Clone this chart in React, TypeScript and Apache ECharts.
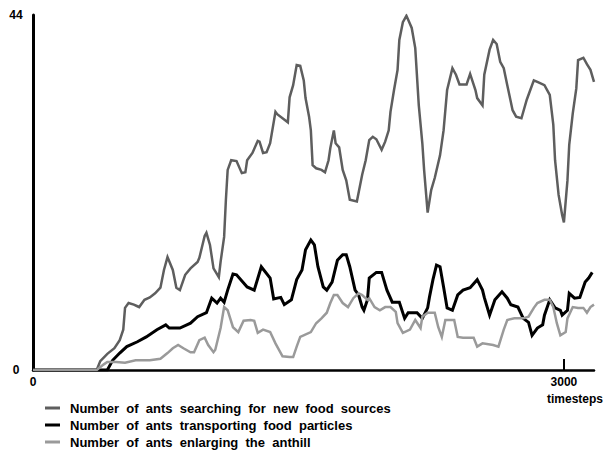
import React, { useEffect, useRef } from "react";
import * as echarts from "echarts";

const seriesNames = [
  "Number  of  ants  searching  for  new  food  sources",
  "Number  of  ants  transporting  food  particles",
  "Number  of  ants  enlarging  the  anthill",
];

const xTickValues = [0, 3000];
const yTickValues = [0, 44];

// [timestep, number of ants]
const searching: [number, number][] = [
  [0, 0], [360, 0], [380, 1.1], [420, 2.0], [460, 2.7], [490, 3.7], [510, 5.0], [520, 7.7],
  [540, 8.3], [570, 8.1], [590, 7.9], [600, 7.8], [630, 8.7], [660, 9.0], [690, 9.5], [720, 10.2],
  [740, 12.4], [760, 14.0], [790, 12.4], [810, 10.2], [830, 9.9], [860, 11.8], [890, 12.6],
  [930, 13.4], [940, 13.9], [970, 16.6], [980, 17.0], [1000, 15.5], [1020, 12.6], [1050, 11.5],
  [1060, 13.4], [1080, 16.5], [1090, 21.1], [1100, 24.8], [1120, 26.0], [1150, 25.9], [1180, 24.4],
  [1200, 24.5], [1210, 26.0], [1240, 26.9], [1270, 28.4], [1280, 28.3], [1300, 26.9], [1320, 27.0],
  [1340, 28.1], [1370, 32.0], [1380, 31.7], [1410, 31.2], [1440, 30.7], [1450, 33.8], [1470, 35.3],
  [1490, 37.8], [1510, 37.7], [1530, 35.9], [1540, 33.7], [1560, 31.4], [1570, 29.7], [1580, 25.4],
  [1600, 25.0], [1630, 24.8], [1650, 24.5], [1670, 26.0], [1680, 27.5], [1700, 29.7], [1710, 28.1],
  [1730, 27.6], [1750, 24.8], [1770, 23.5], [1790, 21.1], [1830, 20.9], [1860, 24.2], [1880, 26.0],
  [1900, 28.5], [1920, 28.9], [1940, 28.6], [1970, 27.3], [1990, 28.3], [2010, 29.7], [2020, 32.0],
  [2040, 34.7], [2060, 37.2], [2070, 40.9], [2090, 43.1], [2110, 43.9], [2120, 43.4], [2140, 42.4],
  [2160, 39.9], [2180, 32.8], [2200, 28.1], [2210, 24.8], [2230, 19.5], [2250, 22.3], [2270, 23.8],
  [2300, 26.6], [2320, 29.7], [2340, 34.7], [2370, 37.4], [2390, 36.6], [2410, 35.4], [2450, 35.4],
  [2470, 36.7], [2500, 34.7], [2510, 33.7], [2540, 32.8], [2550, 36.6], [2580, 39.7], [2600, 40.9],
  [2620, 40.4], [2640, 38.2], [2660, 37.4], [2680, 35.3], [2710, 32.2], [2730, 31.4], [2760, 31.2],
  [2790, 33.5], [2810, 34.7], [2830, 35.9], [2850, 35.7], [2890, 35.3], [2920, 34.1], [2940, 30.4],
  [2950, 26.0], [2970, 21.7], [2990, 19.2], [3000, 18.3], [3020, 23.5], [3030, 27.9], [3050, 31.8],
  [3070, 34.9], [3080, 38.4], [3110, 38.7], [3130, 37.9], [3150, 37.2], [3170, 35.7],
];

const transporting: [number, number][] = [
  [0, 0], [420, 0], [450, 1.2], [490, 2.1], [530, 2.9], [590, 3.5], [640, 4.1], [700, 5.0],
  [750, 5.6], [770, 5.2], [830, 5.2], [890, 5.8], [930, 6.6], [980, 7.1], [1010, 8.9], [1040, 8.3],
  [1060, 8.9], [1080, 8.4], [1100, 9.9], [1130, 11.9], [1150, 11.8], [1210, 10.3], [1250, 9.9],
  [1290, 12.8], [1340, 11.4], [1360, 8.8], [1400, 9.0], [1420, 8.1], [1460, 8.7], [1490, 11.2],
  [1520, 12.4], [1540, 14.9], [1570, 16.1], [1590, 15.5], [1610, 12.8], [1640, 10.3], [1660, 9.9],
  [1690, 10.9], [1720, 13.6], [1750, 14.3], [1770, 14.3], [1790, 12.8], [1820, 9.9], [1840, 9.3],
  [1860, 7.8], [1870, 7.4], [1890, 8.7], [1900, 11.4], [1940, 12.1], [1970, 12.1], [2000, 9.9],
  [2030, 8.4], [2070, 8.4], [2100, 6.4], [2120, 7.1], [2170, 7.1], [2200, 6.4], [2230, 7.7],
  [2240, 9.0], [2260, 11.2], [2280, 13.0], [2300, 12.8], [2320, 10.3], [2340, 7.7], [2370, 7.4],
  [2400, 9.3], [2430, 9.9], [2470, 10.2], [2510, 11.2], [2540, 9.9], [2550, 9.0], [2580, 6.8],
  [2610, 8.7], [2650, 9.7], [2680, 8.9], [2700, 8.1], [2740, 7.8], [2770, 6.4], [2800, 5.9],
  [2820, 4.3], [2850, 5.2], [2880, 5.6], [2890, 6.8], [2920, 8.7], [2950, 7.7], [2980, 7.4],
  [2990, 6.8], [3020, 7.4], [3030, 9.5], [3060, 8.9], [3090, 9.0], [3120, 10.9], [3140, 11.4],
  [3160, 12.1],
];

const enlarging: [number, number][] = [
  [0, 0], [360, 0], [400, 0.7], [420, 1.0], [470, 1.0], [520, 0.9], [580, 1.2], [660, 1.2],
  [720, 1.4], [760, 2.1], [790, 2.7], [820, 3.1], [850, 2.7], [890, 2.2], [910, 2.2], [940, 3.7],
  [970, 4.0], [990, 3.1], [1020, 2.2], [1030, 2.5], [1060, 5.2], [1080, 7.8], [1100, 7.4],
  [1130, 5.3], [1160, 4.7], [1190, 6.1], [1230, 6.2], [1250, 6.1], [1270, 4.6], [1300, 5.0],
  [1340, 4.7], [1370, 3.3], [1410, 1.7], [1450, 1.6], [1470, 1.6], [1490, 2.9], [1510, 4.1],
  [1570, 4.7], [1600, 5.8], [1630, 6.4], [1660, 7.1], [1680, 8.3], [1700, 9.3], [1720, 9.3],
  [1750, 8.3], [1780, 7.8], [1810, 8.9], [1840, 9.5], [1860, 9.3], [1890, 8.7], [1900, 8.9],
  [1930, 7.8], [1960, 7.4], [1990, 7.8], [2020, 7.8], [2050, 7.2], [2060, 5.8], [2090, 4.6],
  [2130, 5.0], [2160, 6.2], [2190, 5.2], [2200, 6.6], [2230, 7.1], [2270, 7.1], [2290, 5.3],
  [2310, 4.1], [2330, 6.2], [2380, 6.2], [2400, 4.1], [2430, 4.0], [2490, 4.0], [2510, 2.9],
  [2540, 3.3], [2600, 3.1], [2630, 2.9], [2660, 5.0], [2680, 6.2], [2720, 6.4], [2770, 6.4],
  [2800, 6.6], [2830, 7.7], [2850, 8.3], [2890, 8.7], [2920, 8.7], [2940, 7.8], [2960, 5.8],
  [2980, 4.3], [3010, 4.7], [3020, 6.4], [3050, 7.8], [3080, 7.7], [3110, 7.7], [3130, 7.1],
  [3150, 7.8], [3170, 8.1],
];

const FONT = "'Liberation Sans', Arial, sans-serif";

export default function App() {
  const ref = useRef<HTMLDivElement>(null);

  useEffect(() => {
    if (!ref.current) return;
    const chart = echarts.init(ref.current, undefined, { renderer: "svg" });
    const colors = ["#5e5e5e", "#000000", "#9a9a9a"];
    const datas = [searching, transporting, enlarging];
    const widths = [2.5, 3, 2.5];

    chart.setOption({
      animation: false,
      backgroundColor: "#ffffff",
      grid: { left: 33, right: 16, top: 15, bottom: 82, outerBoundsMode: "none" },
      legend: {
        orient: "vertical",
        left: 40,
        top: 396,
        height: 60,
        itemWidth: 15,
        itemHeight: 3,
        itemGap: 3,
        icon: "rect",
        selectedMode: false,
        data: seriesNames,
        textStyle: {
          fontFamily: FONT,
          fontWeight: "bold",
          fontSize: 13,
          lineHeight: 14,
          color: "#000",
          padding: [0, 0, 0, 5],
        },
      },
      xAxis: {
        type: "value",
        min: 0,
        max: 3170,
        interval: 3000,
        splitLine: { show: false },
        axisLine: { lineStyle: { color: "#000", width: 2.5 } },
        axisTick: {
          show: true,
          inside: true,
          length: 11,
          customValues: [3000],
          lineStyle: { color: "#000", width: 2 },
        },
        axisLabel: {
          customValues: xTickValues,
          margin: 6,
          fontFamily: FONT,
          fontWeight: "bold",
          fontSize: 12,
          color: "#000",
          formatter: (v: number) => String(v),
        },
        name: "timesteps",
        nameLocation: "end",
        nameGap: -19,
        nameTextStyle: {
          fontFamily: FONT,
          fontWeight: "bold",
          fontSize: 12,
          color: "#000",
          align: "center",
          verticalAlign: "top",
          padding: [23, 0, 0, 0],
        },
      },
      yAxis: {
        type: "value",
        min: 0,
        max: 44,
        interval: 44,
        splitLine: { show: false },
        axisLine: { show: true, lineStyle: { color: "#000", width: 3 } },
        axisTick: { show: false },
        axisLabel: {
          customValues: yTickValues,
          margin: 17,
          align: "center",
          fontFamily: FONT,
          fontWeight: "bold",
          fontSize: 12,
          color: "#000",
        },
      },
      series: seriesNames.map((name, i) => ({
        name,
        type: "line",
        data: datas[i],
        showSymbol: false,
        symbol: "none",
        color: colors[i],
        lineStyle: { color: colors[i], width: widths[i], join: "miter" },
        z: 2 + i,
      })),
    });

    return () => chart.dispose();
  }, []);

  return (
    <div
      ref={ref}
      style={{ position: "fixed", left: 0, top: 0, width: 610, height: 452 }}
    />
  );
}
